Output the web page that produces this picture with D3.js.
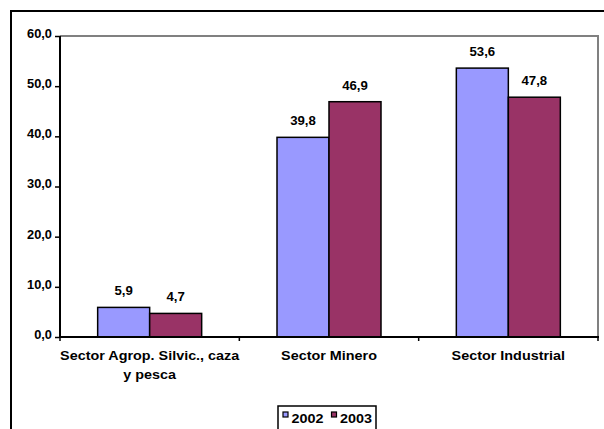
<!DOCTYPE html>
<html><head><meta charset="utf-8">
<script src="https://cdn.jsdelivr.net/npm/d3@7"></script>
<style>body{margin:0;background:#fff}svg{display:block}text{font-family:"Liberation Sans",Arial,sans-serif;font-weight:bold;fill:#000}</style>
</head><body><svg id="c" width="604" height="429"></svg>
<script>
const categories = [["Sector Agrop. Silvic., caza","y pesca"],["Sector Minero"],["Sector Industrial"]];
const seriesNames = ["2002","2003"];
const values2002 = [5.9, 39.8, 53.6];
const values2003 = [4.7, 46.9, 47.8];
const yTicks = [0,10,20,30,40,50,60];
const colors = ["#9999FF","#993366"];

const svg = d3.select("#c");
svg.append("rect").attr("x",0).attr("y",0).attr("width",604).attr("height",429).attr("fill","#fff");
svg.append("path").attr("d","M11,440 L11,11 L620,11").attr("fill","none").attr("stroke","#000").attr("stroke-width",2);

function stext(parent, x, y, str, size, sx, anchor){
  return parent.append("text")
    .attr("transform",`translate(${x},${y}) scale(${sx},1)`)
    .attr("text-anchor",anchor||"middle").style("font-size",size+"px").text(str);
}

const L=60,R=598,T=36,B=337;
const x = d3.scaleBand().domain(d3.range(categories.length)).range([L,R]);
const y = d3.scaleLinear().domain([0,60]).range([B,T]);
const bw = 52;
const fmt = d=>d.toFixed(1).replace(".",",");

svg.append("path").attr("d",`M${L},${T} L${R},${T} L${R},${B}`).attr("fill","none").attr("stroke","#808080").attr("stroke-width",2);

const data = [values2002, values2003];
data.forEach((vals,si)=>{
  const g = svg.append("g");
  g.selectAll("rect").data(vals).join("rect")
    .attr("x",(d,i)=>x(i)+x.bandwidth()/2 - bw + si*bw)
    .attr("y",d=>y(d)).attr("width",bw).attr("height",d=>B-y(d))
    .attr("fill",colors[si]).attr("stroke","#000").attr("stroke-width",1.5);
  vals.forEach((d,i)=>stext(g, x(i)+x.bandwidth()/2 - bw/2 + si*bw, y(d)-12, fmt(d), 12, 1.1));
});

// y axis
const ya = svg.append("g").attr("transform",`translate(${L},0)`)
  .call(d3.axisLeft(y).tickValues(yTicks).tickSize(5).tickPadding(3).tickFormat(fmt));
ya.select(".domain").attr("stroke","#000").attr("stroke-width",2).attr("d",`M0,${B}V${T}`);
ya.selectAll(".tick line").attr("stroke","#000").attr("stroke-width",1.5);
ya.selectAll(".tick text").attr("x",0).attr("dy","0.12em")
  .attr("transform","translate(-8,0) scale(1.07,1)")
  .style("font-family",'"Liberation Sans",Arial,sans-serif').style("font-weight","bold").style("font-size","12px").attr("fill","#000");

// x axis
svg.append("line").attr("x1",L).attr("x2",R+1).attr("y1",B).attr("y2",B).attr("stroke","#000").attr("stroke-width",2);
const bounds = d3.range(categories.length+1).map(i=> i<categories.length ? x(i) : R);
svg.selectAll(".xt").data(bounds).join("line").attr("x1",d=>d).attr("x2",d=>d).attr("y1",B).attr("y2",B+4).attr("stroke","#000").attr("stroke-width",1.5);
categories.forEach((lines,i)=>{
  lines.forEach((ln,j)=>stext(svg, x(i)+x.bandwidth()/2, 360+j*19, ln, 12.5, 1.15));
});

// legend
const lg = svg.append("g");
lg.append("rect").attr("x",278).attr("y",406).attr("width",98).attr("height",30).attr("fill","#fff").attr("stroke","#000").attr("stroke-width",1.5);
const lx=[283,331.5];
seriesNames.forEach((s,i)=>{
  lg.append("rect").attr("x",lx[i]).attr("y",412).attr("width",5).attr("height",5).attr("fill",colors[i]).attr("stroke","#000").attr("stroke-width",1.2);
  stext(lg, lx[i]+8.5, 422.5, s, 12.5, 1.15, "start");
});
</script></body></html>
